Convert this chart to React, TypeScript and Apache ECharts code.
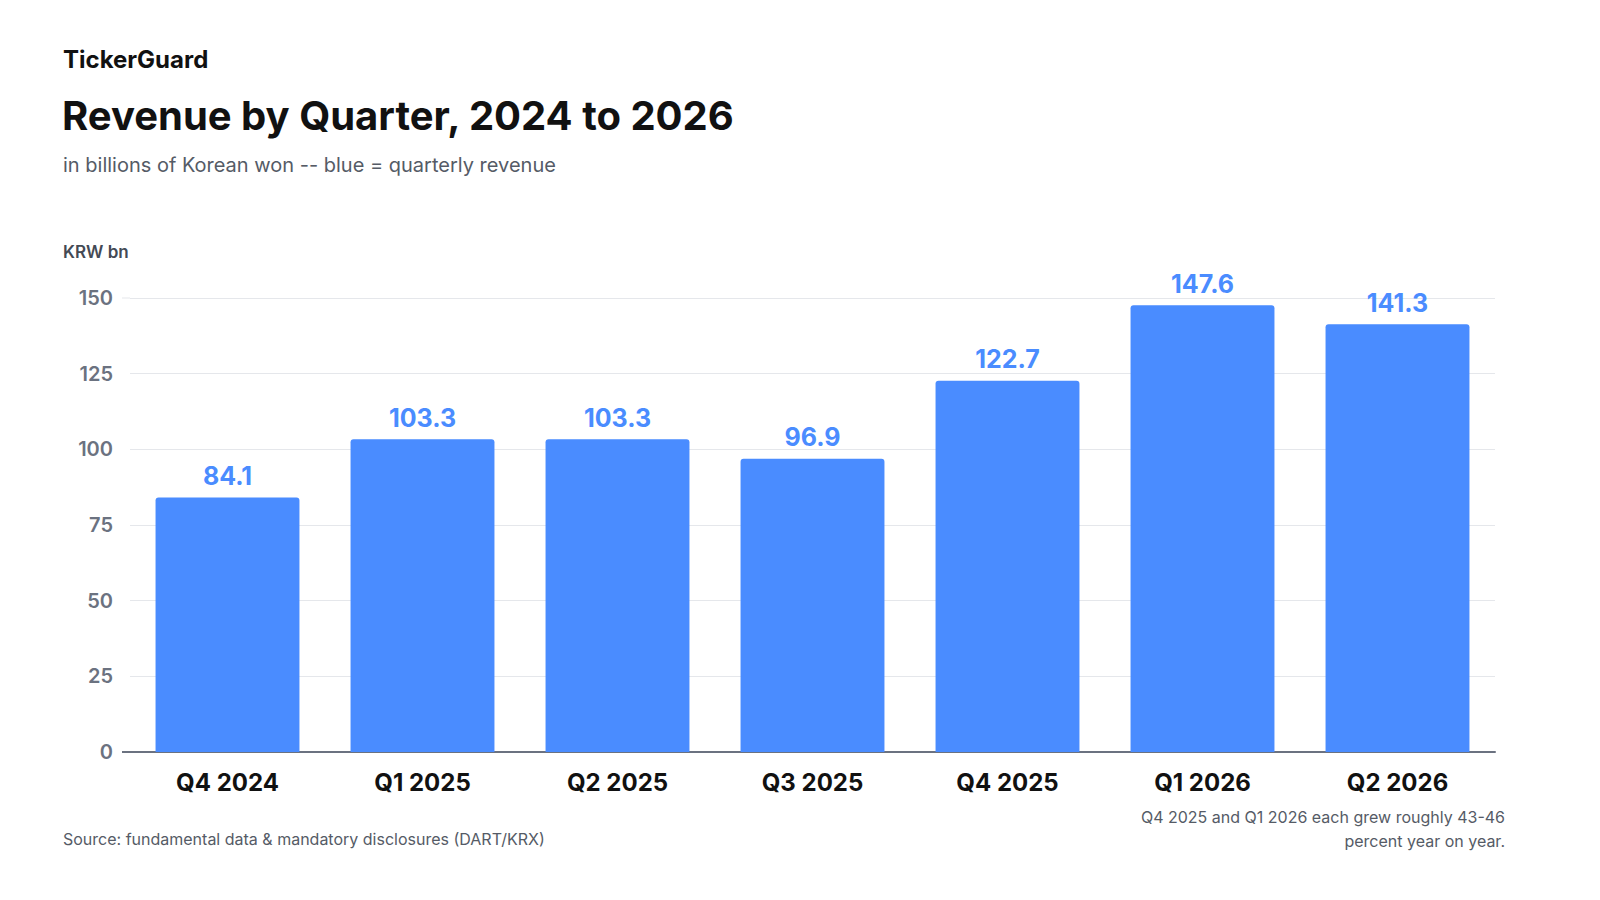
import React, { useEffect, useRef } from "react";
import * as echarts from "echarts";

const categories = ["Q4 2024", "Q1 2025", "Q2 2025", "Q3 2025", "Q4 2025", "Q1 2026", "Q2 2026"];
const revenue = [84.1, 103.3, 103.3, 96.9, 122.7, 147.6, 141.3];

export default function App() {
  const ref = useRef<HTMLDivElement>(null);
  useEffect(() => {
    const chart = echarts.init(ref.current!, null, { renderer: "svg" });
    const font = "Inter, 'Noto Sans', sans-serif";
    chart.setOption({
      animation: false,
      textStyle: { fontFamily: font },
      grid: { left: 130, right: 105, top: 298, bottom: 148 },
      graphic: [
        { type: "text", left: 63, top: 47, style: { text: "TickerGuard", font: `700 24px ${font}`, fill: "#111" } },
        { type: "text", left: 62, top: 95, style: { text: "Revenue by Quarter, 2024 to 2026", font: `700 40px ${font}`, fill: "#111" } },
        { type: "text", left: 63, top: 155, style: { text: "in billions of Korean won -- blue = quarterly revenue", font: `400 20px ${font}`, fill: "#555b66" } },
        { type: "text", left: 63, top: 243, style: { text: "KRW bn", font: `600 17px ${font}`, fill: "#444a55" } },
        { type: "line", shape: { x1: 122, y1: 298, x2: 130, y2: 298 }, style: { stroke: "#e5e7eb", lineWidth: 1 } },
        { type: "line", shape: { x1: 122, y1: 752, x2: 130, y2: 752 }, style: { stroke: "#6b7280", lineWidth: 2 } },
        { type: "text", left: 63, top: 831, style: { text: "Source: fundamental data & mandatory disclosures (DART/KRX)", font: `400 16px ${font}`, fill: "#555b66" } },
        { type: "text", x: 1505, y: 805, style: { text: "Q4 2025 and Q1 2026 each grew roughly 43-46\npercent year on year.", font: `400 16px ${font}`, fill: "#555b66", align: "right", lineHeight: 24 } },
      ],
      xAxis: {
        type: "category",
        data: categories,
        axisTick: { show: false },
        axisLine: { lineStyle: { color: "#6b7280", width: 2 } },
        axisLabel: { color: "#111", fontSize: 24, fontWeight: 700, margin: 18, fontFamily: font },
      },
      yAxis: {
        type: "value",
        min: 0,
        max: 150,
        interval: 25,
        axisLabel: { color: "#6b7280", fontSize: 20, fontWeight: 600, margin: 17, fontFamily: font },
        splitLine: { lineStyle: { color: "#e5e7eb", width: 1 } },
      },
      series: [
        {
          type: "bar",
          data: revenue,
          barWidth: "73.8%",
          itemStyle: { color: "#4a8cff", borderRadius: [3, 3, 0, 0] },
          label: { show: true, position: "top", color: "#4a8cff", fontSize: 25, fontWeight: 700, distance: 9, fontFamily: font },
        },
      ],
    });
    return () => chart.dispose();
  }, []);
  return <div ref={ref} style={{ position: "fixed", left: 0, top: 0, width: 1600, height: 900, background: "#fff" }} />;
}
